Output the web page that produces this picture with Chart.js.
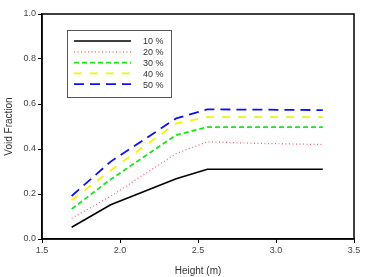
<!DOCTYPE html>
<html>
<head>
<meta charset="utf-8">
<script src="https://cdn.jsdelivr.net/npm/chart.js@4"></script>
<style>
  body { margin: 0; background: #fff; }
  #wrap { width: 365px; height: 277px; }
</style>
</head>
<body>
<div id="wrap"><canvas id="myChart" width="365" height="277"></canvas></div>
<script>
// heights along the column (m)
var heights = [1.69, 1.94, 2.36, 2.56, 2.87, 3.30];

var void10 = [0.052, 0.152, 0.268, 0.310, 0.310, 0.310];
var void20 = [0.092, 0.190, 0.380, 0.432, 0.425, 0.420];
var void30 = [0.133, 0.265, 0.462, 0.497, 0.497, 0.497];
var void40 = [0.173, 0.305, 0.514, 0.542, 0.542, 0.542];
var void50 = [0.191, 0.344, 0.536, 0.576, 0.575, 0.573];

var seriesLabels = ['10 %', '20 %', '30 %', '40 %', '50 %'];
var xTicks = [1.5, 2.0, 2.5, 3.0, 3.5];
var yTicks = [0.0, 0.2, 0.4, 0.6, 0.8, 1.0];

function pts(ys) {
  return ys.map(function (v, i) { return { x: heights[i], y: v }; });
}

function makeSet(label, ys, color, dash, width) {
  return {
    label: label,
    data: pts(ys),
    borderColor: color,
    backgroundColor: color,
    borderWidth: width,
    borderDash: dash,
    pointRadius: 0,
    fill: false,
    tension: 0
  };
}

// legend box drawn inside the plot + frame around the plot
var boxPlugin = {
  id: 'boxPlugin',
  afterDraw: function (chart) {
    var ctx = chart.ctx;
    var a = chart.chartArea;
    ctx.save();
    ctx.strokeStyle = '#000';
    ctx.lineWidth = 1.5;
    ctx.setLineDash([]);
    ctx.strokeRect(a.left, a.top, a.right - a.left, a.bottom - a.top);

    // legend
    var bx = 67, by = 30, bw = 104, bh = 67;
    ctx.lineWidth = 1;
    ctx.strokeStyle = '#555';
    ctx.fillStyle = '#fff';
    ctx.fillRect(bx, by, bw, bh);
    ctx.strokeRect(bx + 0.5, by + 0.5, bw, bh);
    ctx.font = '9px "Liberation Sans", Arial, sans-serif';
    ctx.textBaseline = 'middle';
    chart.data.datasets.forEach(function (ds, i) {
      var y = by + 11 + i * 10.8;
      ctx.beginPath();
      ctx.strokeStyle = ds.borderColor;
      ctx.lineWidth = ds.borderWidth;
      ctx.setLineDash(ds.borderDash);
      ctx.moveTo(bx + 7, y);
      ctx.lineTo(bx + 64, y);
      ctx.stroke();
      ctx.setLineDash([]);
      ctx.fillStyle = '#333';
      ctx.fillText(ds.label, bx + 76, y + 1);
    });
    ctx.restore();
  }
};

var ctx = document.getElementById('myChart');
var myChart = new Chart(ctx, {
  type: 'line',
  data: {
    datasets: [
      makeSet(seriesLabels[0], void10, '#000000', [], 1.6),
      makeSet(seriesLabels[1], void20, '#ff5a6e', [1, 2.5], 1.2),
      makeSet(seriesLabels[2], void30, '#19e619', [5, 3], 1.8),
      makeSet(seriesLabels[3], void40, '#f5f500', [8, 8], 1.8),
      makeSet(seriesLabels[4], void50, '#1010ee', [10, 6], 1.8)
    ]
  },
  options: {
    responsive: false,
    animation: false,
    layout: { padding: { top: 14, right: 11, left: 0, bottom: 0 } },
    plugins: { legend: { display: false }, tooltip: { enabled: false } },
    scales: {
      x: {
        type: 'linear',
        min: 1.5,
        max: 3.5,
        afterBuildTicks: function (s) { s.ticks = xTicks.map(function (v) { return { value: v }; }); },
        afterFit: function (s) { s.height = 38; },
        grid: { drawOnChartArea: false, tickLength: 4, tickColor: '#000', tickWidth: 1 },
        border: { color: '#000', width: 1.5 },
        ticks: {
          color: '#444',
          padding: 2,
          font: { family: '"Liberation Sans", Arial, sans-serif', size: 9 },
          callback: function (v) { return Number(v).toFixed(1); }
        },
        title: {
          display: true,
          text: 'Height (m)',
          color: '#333',
          padding: { top: 4, bottom: 0 },
          font: { family: '"Liberation Sans", Arial, sans-serif', size: 10 }
        }
      },
      y: {
        min: 0,
        max: 1,
        afterBuildTicks: function (s) { s.ticks = yTicks.map(function (v) { return { value: v }; }); },
        afterFit: function (s) { s.width = 42; },
        grid: { drawOnChartArea: false, tickLength: 4, tickColor: '#000', tickWidth: 1 },
        border: { color: '#000', width: 1.5 },
        ticks: {
          color: '#444',
          padding: 2,
          font: { family: '"Liberation Sans", Arial, sans-serif', size: 9 },
          callback: function (v) { return Number(v).toFixed(1); }
        },
        title: {
          display: true,
          text: 'Void Fraction',
          color: '#333',
          padding: { top: 3, bottom: 4 },
          font: { family: '"Liberation Sans", Arial, sans-serif', size: 10 }
        }
      }
    }
  },
  plugins: [boxPlugin]
});
</script>
</body>
</html>
